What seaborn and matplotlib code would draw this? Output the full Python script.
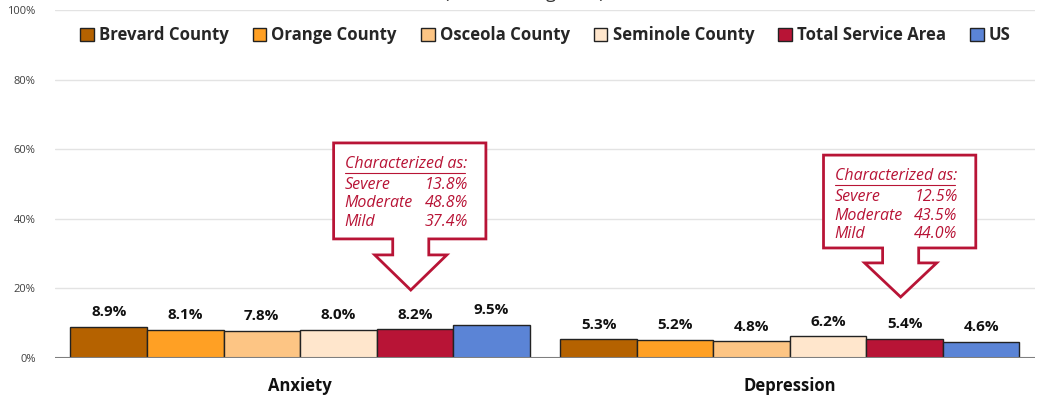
import matplotlib
matplotlib.use("Agg")
import matplotlib.pyplot as plt
import seaborn as sns
import pandas as pd
import numpy as np
from matplotlib.patches import Polygon

categories = ["Anxiety", "Depression"]
areas = ["Brevard County", "Orange County", "Osceola County", "Seminole County", "Total Service Area", "US"]
anxiety = [8.9, 8.1, 7.8, 8.0, 8.2, 9.5]
depression = [5.3, 5.2, 4.8, 6.2, 5.4, 4.6]
colors = ["#B56200", "#FFA024", "#FDC584", "#FFE6CC", "#B81436", "#5B84D6"]
callout_labels = ["Severe", "Moderate", "Mild"]
anxiety_split = [13.8, 48.8, 37.4]
depression_split = [12.5, 43.5, 44.0]
yticks = [0, 20, 40, 60, 80, 100]

rows = []
for cat, vals in zip(categories, [anxiety, depression]):
    for a, v in zip(areas, vals):
        rows.append({"Condition": cat, "Area": a, "Value": v})
df = pd.DataFrame(rows)

sns.set_theme(style="white")
plt.rcParams["font.family"] = ["Open Sans", "DejaVu Sans"]

fig = plt.figure(figsize=(10.39, 4.03), dpi=100)
ax = fig.add_axes([0.053, 0.112, 0.943, 0.863])

sns.barplot(data=df, x="Condition", y="Value", hue="Area", hue_order=areas,
            palette=colors, width=0.937, edgecolor="#222222", linewidth=1.0,
            ax=ax, legend=False, saturation=1)

ax.set_ylim(0, 100)
ax.set_xlim(-0.5, 1.5)
ax.set_yticks(yticks)
ax.set_yticklabels([f"{t}%" for t in yticks], fontsize=8, color="#404040")
ax.tick_params(axis="y", length=0, pad=14)
ax.tick_params(axis="x", length=0, pad=14)
ax.set_xticklabels(categories, fontsize=12, fontweight="bold", color="#111111")
ax.set_xlabel("")
ax.set_ylabel("")
for t in yticks[1:]:
    ax.axhline(t, color="#E3E3E3", linewidth=1.0, zorder=0)
ax.axhline(0, color="#7F7F7F", linewidth=1.5, zorder=3)
for s in ax.spines.values():
    s.set_visible(False)

for cont in ax.containers:
    for bar in cont:
        h = bar.get_height()
        ax.text(bar.get_x() + bar.get_width() / 2, h + 2.2, f"{h:.1f}%",
                ha="center", va="bottom", fontsize=11, fontweight="bold", color="#111111")

# legend
handles = [plt.Rectangle((0, 0), 1, 1, facecolor=c, edgecolor="#222222", linewidth=1.0) for c in colors]
fig.legend(handles, areas, loc="center", bbox_to_anchor=(0.525, 0.913), ncol=6, frameon=False,
           prop={"size": 12.1, "weight": "bold"}, handlelength=0.8, handleheight=0.8,
           handletextpad=0.3, columnspacing=1.45)

# title, mostly above the top edge as in the reference
fig.text(0.505, 1.0 + 2.0 / 403, "(Current Diagnosis)", ha="center", va="baseline",
         fontsize=13, color="#333333")

# callouts
px_x = 2.0 / 978.0
px_y = 100.0 / 348.0
red = "#B81436"

tsa_bars = [ax.containers[4][0], ax.containers[4][1]]
specs = [
    (tsa_bars[0], 19.5, 29.6, 61.8, 34.2, anxiety_split),
    (tsa_bars[1], 17.5, 27.3, 58.3, 31.6, depression_split),
]
for bar, tip, headtop, boxtop, boxbot, split in specs:
    cx = bar.get_x() + bar.get_width() / 2 - 4 * px_x
    L = cx - 77 * px_x
    R = cx + 75 * px_x
    sw = 18 * px_x
    hw = 36 * px_x
    pts = [(L, boxtop), (R, boxtop), (R, boxbot), (cx + sw, boxbot), (cx + sw, headtop),
           (cx + hw, headtop), (cx, tip), (cx - hw, headtop), (cx - sw, headtop),
           (cx - sw, boxbot), (L, boxbot)]
    poly = Polygon(pts, closed=True, facecolor="white", edgecolor=red, linewidth=2.0, zorder=5)
    ax.add_patch(poly)
    tx = L + 11 * px_x
    vx = R - 18 * px_x
    y0 = boxtop - 21 * px_y
    ax.text(tx, y0, "Characterized as:", ha="left", va="center", fontsize=11.5, style="italic",
            color=red, zorder=6)
    ax.plot([tx, tx + 120 * px_x], [y0 - 9 * px_y, y0 - 9 * px_y], color=red, linewidth=0.8, zorder=6)
    for i, (lab, val) in enumerate(zip(callout_labels, split)):
        yy = y0 - (21 + 18.5 * i) * px_y
        ax.text(tx, yy, lab, ha="left", va="center", fontsize=11.5, style="italic", color=red, zorder=6)
        ax.text(vx, yy, f"{val:.1f}%", ha="right", va="center", fontsize=11.5, style="italic", color=red, zorder=6)

fig.savefig("out.png", dpi=100, facecolor="white")
